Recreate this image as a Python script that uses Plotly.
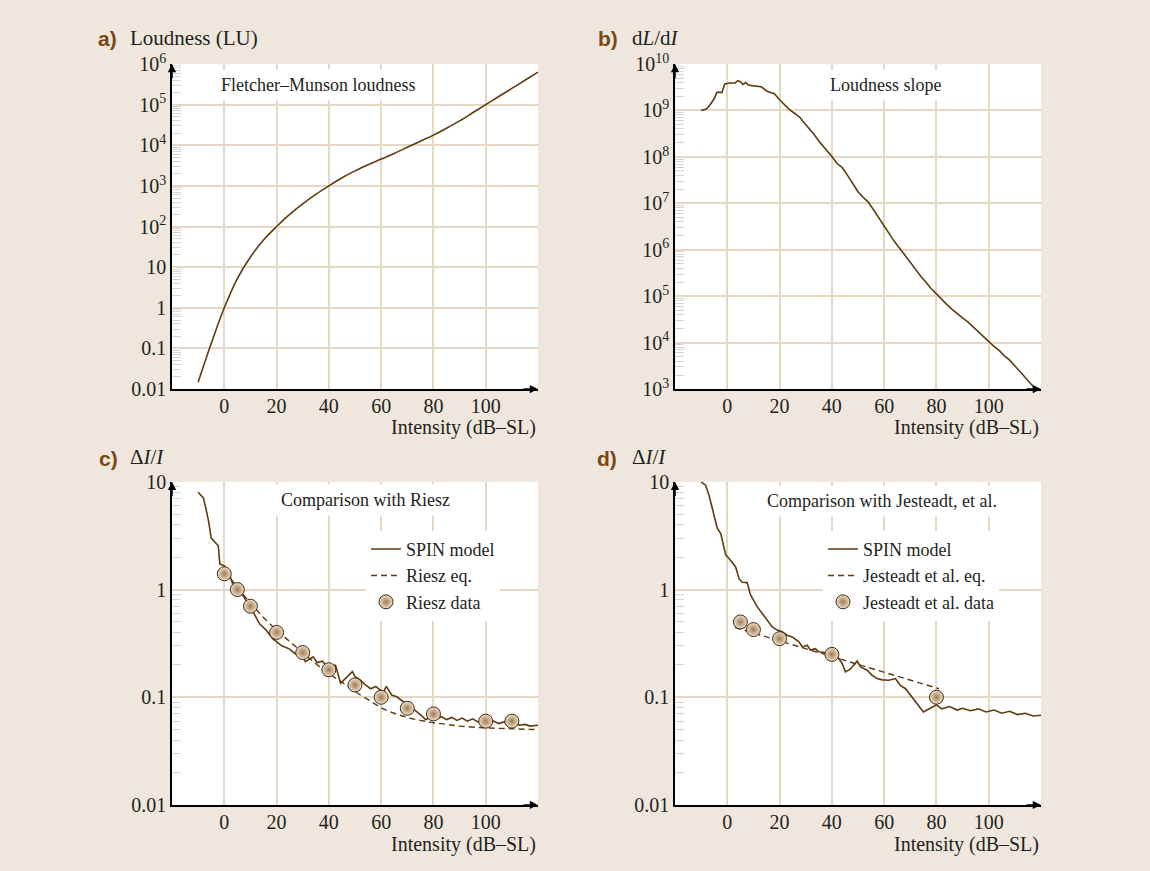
import plotly.graph_objects as go

# ---------------- data ----------------
# a) Fletcher-Munson loudness (LU) vs intensity (dB-SL)
a_x = [-10, -5, 0, 5, 10, 15, 20, 25, 30, 35, 40, 45, 50, 55, 60, 65, 70, 75, 80, 85, 90, 95, 100, 105, 110, 115, 120]
a_y = [0.0148, 0.132, 1.0, 5.25, 17.8, 46.8, 100, 200, 363, 617, 1000, 1585, 2344, 3311, 4570, 6310,
       8900, 12600, 17800, 26300, 39800, 63100, 100000, 158500, 251200, 398100, 631000]

# b) loudness slope dL/dI
b_x = [-10, -8, -7, -5, -4, -2, -1, 1, 3, 4, 5, 6, 7, 8, 10, 13, 15, 18, 20, 22, 24, 26, 28, 29, 31, 33, 35,
       38, 40, 42, 44, 46, 48, 50, 52, 54, 56, 58, 60, 62, 64, 66, 68, 70, 72, 74, 76, 78, 80, 82, 84, 86,
       88, 90, 92, 94, 96, 98, 100, 102, 104, 106, 108, 110, 112, 114, 116, 118]
b_y = [1.0e9, 1.07e9, 1.23e9, 1.78e9, 2.45e9, 2.45e9, 3.72e9, 3.89e9, 3.89e9, 4.37e9, 4.17e9, 3.63e9, 3.98e9,
       3.55e9, 3.39e9, 3.24e9, 2.63e9, 2.29e9, 1.70e9, 1.32e9, 1.02e9, 8.5e8, 6.9e8, 5.75e8, 4.37e8, 3.16e8,
       2.19e8, 1.41e8, 1.02e8, 7.2e7, 5.9e7, 4.0e7, 2.63e7, 1.78e7, 1.35e7, 1.05e7, 7.2e6, 4.8e6, 3.16e6,
       2.14e6, 1.48e6, 1.07e6, 7.6e5, 5.2e5, 3.8e5, 2.7e5, 2.0e5, 1.45e5, 1.12e5, 8.5e4, 6.6e4, 5.2e4, 4.3e4,
       3.4e4, 2.8e4, 2.2e4, 1.66e4, 1.32e4, 1.05e4, 8.3e3, 6.8e3, 5.2e3, 4.2e3, 3.2e3, 2.4e3, 1.78e3,
       1.32e3, 1.0e3]

# c) Delta I / I, SPIN model vs Riesz
c_spin_x = [-10, -8, -7, -6, -5, -4, -2.3, -1.7, 0, 1.5, 3.4, 6, 8.5, 11, 13.5, 16, 18.5, 20, 22, 25, 27, 30,
            31, 34, 35.5, 37.5, 39.5, 41, 42.5, 44.5, 47, 49, 50, 52, 54, 56, 58, 59.5, 61, 62, 64, 66, 70,
            72, 75, 77, 79, 81, 83, 85, 87, 89, 91, 93, 95, 97, 99, 101, 103, 105, 107, 109, 111, 113, 115,
            117, 120]
c_spin_y = [8.0, 7.1, 5.6, 4.3, 3.0, 2.8, 2.55, 1.73, 1.66, 1.5, 1.09, 0.98, 0.79, 0.62, 0.48, 0.42, 0.35,
            0.33, 0.30, 0.28, 0.255, 0.237, 0.214, 0.237, 0.21, 0.216, 0.19, 0.178, 0.20, 0.135, 0.155, 0.173,
            0.155, 0.145, 0.13, 0.12, 0.126, 0.117, 0.113, 0.126, 0.105, 0.101, 0.085, 0.079, 0.069, 0.062,
            0.065, 0.063, 0.066, 0.062, 0.065, 0.061, 0.064, 0.060, 0.063, 0.059, 0.061, 0.058, 0.060, 0.057,
            0.059, 0.056, 0.058, 0.055, 0.056, 0.054, 0.055]
riesz_eq_x = [0, 5, 10, 15, 20, 25, 30, 35, 40, 45, 50, 55, 60, 65, 70, 75, 80, 85, 90, 100, 110, 120]
riesz_eq_y = [1.5, 1.05, 0.75, 0.55, 0.42, 0.33, 0.26, 0.205, 0.165, 0.138, 0.113, 0.095, 0.080, 0.071,
              0.065, 0.061, 0.058, 0.056, 0.054, 0.052, 0.051, 0.050]
riesz_x = [0, 5, 10, 20, 30, 40, 50, 60, 70, 80, 100, 110]
riesz_y = [1.40, 1.0, 0.70, 0.40, 0.26, 0.18, 0.13, 0.10, 0.079, 0.070, 0.060, 0.060]

# d) Delta I / I, SPIN model vs Jesteadt et al.
d_spin_x = [-10, -8.3, -7, -5.7, -3.8, -2.5, -0.6, 0.6, 3.2, 4.5, 5.7, 7.6, 8.9, 11.5, 14, 17.2, 19.1, 21,
            22.9, 24.8, 27.4, 28.7, 30.6, 31.8, 33.7, 35, 37, 38.9, 40.8, 42.7, 43.9, 45.2, 47, 49.7, 51,
            53.5, 55.4, 57.3, 59.3, 61.8, 64.3, 66.2, 68.2, 70.7, 73, 75, 78, 80, 82, 85, 88, 90, 93, 96, 99,
            102, 105, 108, 111, 114, 117, 120]
d_spin_y = [10.0, 9.3, 7.5, 5.6, 3.7, 3.3, 2.1, 1.95, 1.62, 1.26, 1.17, 1.16, 0.89, 0.69, 0.575, 0.45, 0.42,
            0.405, 0.377, 0.363, 0.327, 0.293, 0.304, 0.274, 0.282, 0.264, 0.26, 0.255, 0.237, 0.229, 0.206,
            0.172, 0.182, 0.216, 0.191, 0.178, 0.16, 0.149, 0.145, 0.144, 0.149, 0.129, 0.12, 0.10, 0.085,
            0.073, 0.080, 0.085, 0.078, 0.082, 0.076, 0.079, 0.075, 0.078, 0.073, 0.076, 0.071, 0.074, 0.069,
            0.071, 0.067, 0.068]
jes_eq_x = [3, 20, 40, 60, 81]
jes_eq_y = [0.444, 0.333, 0.238, 0.170, 0.12]
jes_x = [5, 10, 20, 40, 80]
jes_y = [0.50, 0.425, 0.35, 0.25, 0.10]

x_ticks = [0, 20, 40, 60, 80, 100]

# ---------------- styling ----------------
W, H = 1150, 871
BG = '#efe7dd'
GRID = '#e6d7c4'
LINE = '#5e3b0f'
TXT = '#231f20'
LAB = '#7a4712'
SERIF = 'Liberation Serif'


def PX(x):
    return x / W


def PY(y):
    # vertical pixel position (from top) -> paper coordinate
    return 1 - ((y - 13.4) / 0.972) / H


fig = go.Figure()

XL = [PX(172), PX(538)]
XR = [PX(675), PX(1041)]
YT = [PY(389.3), PY(64.4)]
YB = [PY(805), PY(482)]


def minor_vals(e0, e1):
    return [m * 10 ** e for e in range(e0, e1) for m in range(2, 10)]


def yax(e0, e1, vals, texts, domain, anchor):
    return dict(type='log', range=[e0, e1], domain=domain, anchor=anchor,
                tickmode='array', tickvals=vals, ticktext=texts, ticks='',
                showgrid=True, gridcolor=GRID, gridwidth=2, zeroline=False,
                showline=True, linecolor='black', linewidth=1.5,
                tickfont=dict(family=SERIF, size=20, color=TXT),
                minor=dict(tickmode='array', tickvals=minor_vals(e0, e1), ticks='inside',
                           ticklen=9, tickcolor='#d4d4d4', tickwidth=1, showgrid=False))


def xax(domain, anchor):
    return dict(range=[-20, 120], domain=domain, anchor=anchor, tickmode='array',
                tickvals=x_ticks, ticktext=[str(v) for v in x_ticks], ticks='',
                showgrid=True, gridcolor=GRID, gridwidth=2, zeroline=False,
                showline=True, linecolor='black', linewidth=1.5, ticklabelstandoff=-2,
                tickfont=dict(family=SERIF, size=20, color=TXT))


sup = lambda e: '10<sup>%d</sup>' % e
ya_vals = [10 ** e for e in range(-2, 7)]
ya_text = ['0.01', '0.1', '1', '10'] + [sup(e) for e in range(2, 7)]
yb_vals = [10 ** e for e in range(3, 11)]
yb_text = [sup(e) for e in range(3, 11)]
yc_vals = [0.01, 0.1, 1, 10]
yc_text = ['0.01', '0.1', '1', '10']

fig.update_layout(
    xaxis=xax(XL, 'y'), yaxis=yax(-2, 6, ya_vals, ya_text, YT, 'x'),
    xaxis2=xax(XR, 'y2'), yaxis2=yax(3, 10, yb_vals, yb_text, YT, 'x2'),
    xaxis3=xax(XL, 'y3'), yaxis3=yax(-2, 1, yc_vals, yc_text, YB, 'x3'),
    xaxis4=xax(XR, 'y4'), yaxis4=yax(-2, 1, yc_vals, yc_text, YB, 'x4'),
)

line_style = dict(color=LINE, width=1.6)
dash_style = dict(color=LINE, width=1.4, dash='6px,4px')
marker_style = dict(size=14, color='#efdfc6', gradient=dict(type='radial', color='#a07c55'),
                    line=dict(color='#3b2a18', width=1))

fig.add_trace(go.Scatter(x=a_x, y=a_y, mode='lines', line=dict(shape='spline', **line_style),
                         xaxis='x', yaxis='y', showlegend=False))
fig.add_trace(go.Scatter(x=b_x, y=b_y, mode='lines', line=line_style,
                         xaxis='x2', yaxis='y2', showlegend=False))

fig.add_trace(go.Scatter(x=c_spin_x, y=c_spin_y, mode='lines', line=line_style, name='SPIN model',
                         xaxis='x3', yaxis='y3', legend='legend'))
fig.add_trace(go.Scatter(x=riesz_eq_x, y=riesz_eq_y, mode='lines', line=dict(shape='spline', **dash_style),
                         name='Riesz eq.', xaxis='x3', yaxis='y3', legend='legend'))
fig.add_trace(go.Scatter(x=riesz_x, y=riesz_y, mode='markers', marker=marker_style, name='Riesz data',
                         xaxis='x3', yaxis='y3', legend='legend'))

fig.add_trace(go.Scatter(x=d_spin_x, y=d_spin_y, mode='lines', line=line_style, name='SPIN model',
                         xaxis='x4', yaxis='y4', legend='legend2'))
fig.add_trace(go.Scatter(x=jes_eq_x, y=jes_eq_y, mode='lines', line=dash_style,
                         name='Jesteadt et al. eq.', xaxis='x4', yaxis='y4', legend='legend2'))
fig.add_trace(go.Scatter(x=jes_x, y=jes_y, mode='markers', marker=marker_style, name='Jesteadt et al. data',
                         xaxis='x4', yaxis='y4', legend='legend2'))

leg_common = dict(bgcolor='white', borderwidth=0, font=dict(family=SERIF, size=18, color=TXT),
                  xanchor='left', yanchor='top', tracegroupgap=0, itemclick=False)
fig.update_layout(
    legend=dict(x=PX(366), y=PY(531), **leg_common),
    legend2=dict(x=PX(823), y=PY(531), **leg_common),
)

ann = []
# inner titles
for txt, xc, yc in [('Fletcher–Munson loudness', 318, 85), ('Loudness slope', 886, 85),
                    ('Comparison with Riesz', 365, 500), ('Comparison with Jesteadt, et al.', 882, 501)]:
    ann.append(dict(text=txt, x=PX(xc), y=PY(yc), xref='paper', yref='paper', showarrow=False,
                    xanchor='center', yanchor='middle', bgcolor='white', borderpad=5,
                    font=dict(family=SERIF, size=18, color=TXT)))
# panel letters
for txt, xl, yc in [('a)', 96, 39), ('b)', 596, 39), ('c)', 97, 459), ('d)', 595, 459)]:
    ann.append(dict(text='<b>%s</b>' % txt, x=PX(xl), y=PY(yc), xref='paper', yref='paper',
                    showarrow=False, xanchor='left', yanchor='middle',
                    font=dict(family='Liberation Sans Narrow, Liberation Sans', size=21, color=LAB)))
# y-axis titles
for txt, xl, yc in [('Loudness (LU)', 128, 38), ('d<i>L</i>/d<i>I</i>', 630, 38),
                    ('Δ<i>I</i>/<i>I</i>', 128, 457), ('Δ<i>I</i>/<i>I</i>', 630, 457)]:
    ann.append(dict(text=txt, x=PX(xl), y=PY(yc), xref='paper', yref='paper', showarrow=False,
                    xanchor='left', yanchor='middle', font=dict(family=SERIF, size=21, color=TXT)))
# x-axis titles
for xr, yc in [(538, 428), (1041, 428), (538, 845), (1041, 845)]:
    ann.append(dict(text='Intensity (dB–SL)', x=PX(xr), y=PY(yc), xref='paper', yref='paper',
                    showarrow=False, xanchor='right', yanchor='middle',
                    font=dict(family=SERIF, size=20, color=TXT)))
# axis arrows
for xd, yd in [(XL, YT), (XR, YT), (XL, YB), (XR, YB)]:
    ann.append(dict(text='', x=xd[0], y=yd[1], xref='paper', yref='paper', showarrow=True,
                    ax=0, ay=16, arrowhead=2, arrowsize=1.1, arrowwidth=1.5, arrowcolor='black'))
    ann.append(dict(text='', x=xd[1], y=yd[0], xref='paper', yref='paper', showarrow=True,
                    ax=-16, ay=0, arrowhead=2, arrowsize=1.1, arrowwidth=1.5, arrowcolor='black'))

fig.update_layout(width=W, height=H, margin=dict(l=0, r=0, t=0, b=0), paper_bgcolor=BG,
                  plot_bgcolor='white', annotations=ann, showlegend=True)

fig.write_html('out.html')
